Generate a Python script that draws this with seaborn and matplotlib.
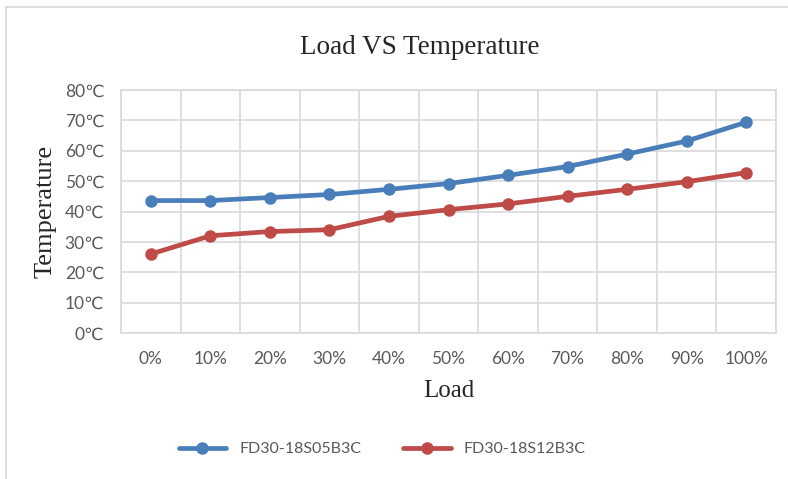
import pandas as pd
import seaborn as sns
import numpy as np
import matplotlib.pyplot as plt
from matplotlib.lines import Line2D
from matplotlib.ticker import FixedLocator

loads = ['0%', '10%', '20%', '30%', '40%', '50%', '60%', '70%', '80%', '90%', '100%']
temp_s05 = [43.6, 43.6, 44.6, 45.6, 47.3, 49.2, 51.9, 54.8, 58.9, 63.2, 69.4]
temp_s12 = [26.0, 32.0, 33.4, 34.0, 38.4, 40.6, 42.5, 45.0, 47.3, 49.8, 52.8]
series_names = ['FD30-18S05B3C', 'FD30-18S12B3C']
y_ticks = list(range(0, 90, 10))

df = pd.DataFrame({
    'Load': loads * 2,
    'Temperature': temp_s05 + temp_s12,
    'Model': [series_names[0]] * len(loads) + [series_names[1]] * len(loads),
})

sns.set_style('white')
plt.rcParams['font.family'] = ['Lato', 'DejaVu Sans']

fig = plt.figure(figsize=(7.88, 4.79), dpi=100)
W, H = 788, 479
ax = fig.add_axes([121 / W, 1 - 333 / H, (776 - 121) / W, (333 - 90) / H])

palette = {series_names[0]: '#4a7ebb', series_names[1]: '#be4b48'}
sns.lineplot(data=df, x='Load', y='Temperature', hue='Model', palette=palette,
             marker='o', markersize=9, markeredgewidth=0, linewidth=3.4,
             sort=False, ax=ax, legend=True)

ax.set_xlim(-0.5, len(loads) - 0.5)
ax.set_ylim(0, 80)
ax.yaxis.set_major_locator(FixedLocator(y_ticks))
ax.set_yticklabels([f'{v}\u2103' for v in y_ticks])
ax.xaxis.set_minor_locator(FixedLocator(np.arange(-0.5, len(loads), 1.0)))
ax.grid(True, which='major', axis='y', color='#d9d9d9', linewidth=1.2)
ax.grid(True, which='minor', axis='x', color='#d9d9d9', linewidth=1.2)
ax.grid(False, which='major', axis='x')
ax.set_axisbelow(True)
for s in ax.spines.values():
    s.set_color('#d9d9d9')
    s.set_linewidth(1.2)
ax.tick_params(axis='both', which='both', length=0, labelsize=12.5, labelcolor='#595959')
ax.tick_params(axis='x', pad=13)
ax.tick_params(axis='y', pad=12)

serif = ['Liberation Serif', 'DejaVu Serif']
ax.set_xlabel('Load', family=serif, fontsize=18, labelpad=9)
ax.set_ylabel('Temperature', family=serif, fontsize=19, labelpad=6)
fig.text(420 / W, 1 - 47 / H, 'Load VS Temperature',
         family=serif, fontsize=19.5, ha='center', va='center')

handles, labels = ax.get_legend_handles_labels()
ax.legend(handles, labels, loc='center', bbox_to_anchor=(382 / W, 1 - 449 / H),
          bbox_transform=fig.transFigure, ncol=2, frameon=False, fontsize=11.5,
          handlelength=3.0, columnspacing=2.6, labelcolor='#595959')

# outer chart frame: only left and top edges are visible
fig.add_artist(Line2D([6 / W, 6 / W], [0, 1 - 7 / H], transform=fig.transFigure,
                      color='#d9d9d9', linewidth=1.2))
fig.add_artist(Line2D([6 / W, 1], [1 - 7 / H, 1 - 7 / H], transform=fig.transFigure,
                      color='#d9d9d9', linewidth=1.2))

fig.savefig('out.png', dpi=100)
